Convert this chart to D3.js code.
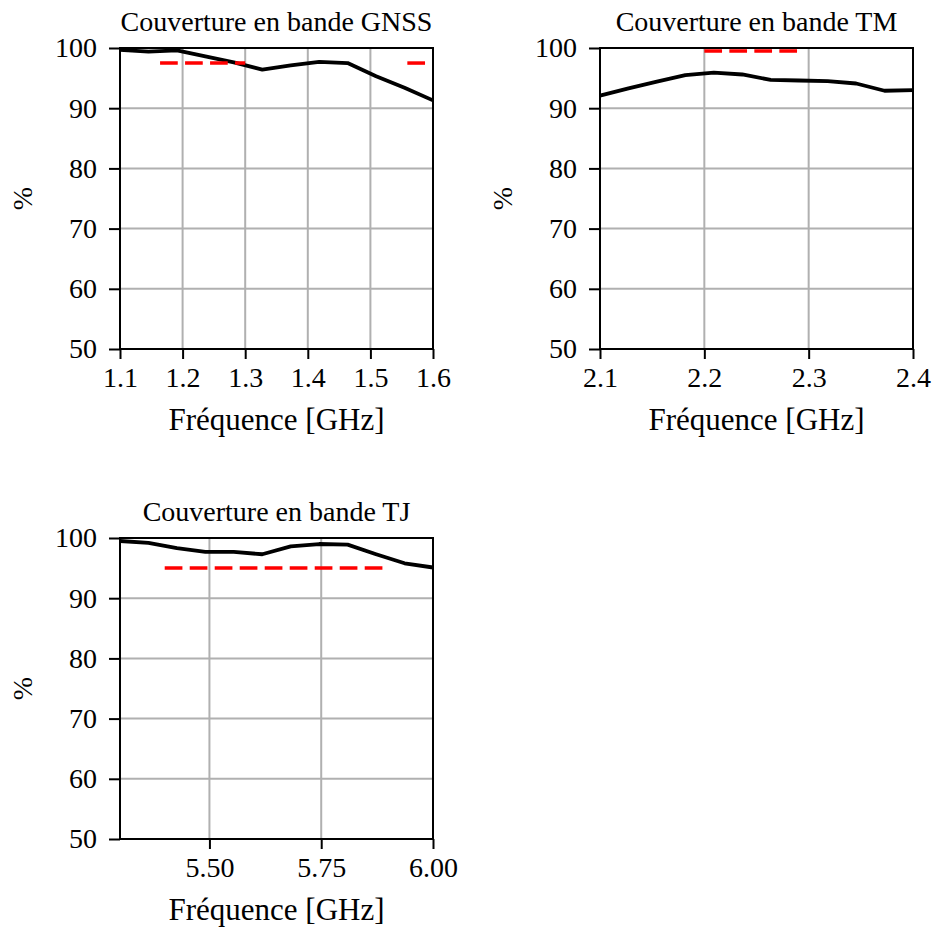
<!DOCTYPE html>
<html><head><meta charset="utf-8">
<script src="https://cdn.jsdelivr.net/npm/d3@7"></script>
<style>body{margin:0;background:#fff}svg{display:block}text{font-family:"Liberation Serif","Times New Roman",serif;fill:#000}</style>
</head><body>
<script>
// ---- data ----
const gnssFreq = [1.1, 1.1455, 1.1909, 1.2364, 1.2818, 1.3273, 1.3727, 1.4182, 1.4636, 1.5091, 1.5545, 1.6];
const gnssCov  = [99.7, 99.4, 99.6, 98.6, 97.6, 96.4, 97.1, 97.7, 97.5, 95.3, 93.4, 91.3];
const gnssReq  = [[1.164, 1.300, 97.5], [1.559, 1.591, 97.5]];
const tmFreq = [2.1, 2.1273, 2.1545, 2.1818, 2.2091, 2.2364, 2.2636, 2.2909, 2.3182, 2.3455, 2.3727, 2.4];
const tmCov  = [92.1, 93.3, 94.4, 95.5, 95.9, 95.6, 94.7, 94.6, 94.5, 94.1, 92.9, 93.0];
const tmReq  = [[2.2, 2.29, 99.5]];
const tjFreq = [5.3, 5.3636, 5.4273, 5.4909, 5.5545, 5.6182, 5.6818, 5.7455, 5.8091, 5.8727, 5.9364, 6.0];
const tjCov  = [99.5, 99.2, 98.3, 97.7, 97.7, 97.3, 98.6, 99.0, 98.9, 97.3, 95.8, 95.1];
const tjReq  = [[5.4, 5.9, 95.0]];
const yTicks = [50, 60, 70, 80, 90, 100];
const gnssTicks = [1.1, 1.2, 1.3, 1.4, 1.5, 1.6];
const tmTicks = [2.1, 2.2, 2.3, 2.4];
const tjTicks = [5.5, 5.75, 6.0];

const panels = [
  {title: "Couverture en bande GNSS", x: gnssFreq, y: gnssCov, req: gnssReq, dom: [1.1, 1.6], ticks: gnssTicks, fmt: d3.format(".1f"), left: 120, top: 48},
  {title: "Couverture en bande TM", x: tmFreq, y: tmCov, req: tmReq, dom: [2.1, 2.4], ticks: tmTicks, fmt: d3.format(".1f"), left: 600, top: 48},
  {title: "Couverture en bande TJ", x: tjFreq, y: tjCov, req: tjReq, dom: [5.3, 6.0], ticks: tjTicks, fmt: d3.format(".2f"), left: 120, top: 538}
];
const W = 313, H = 301;
const FONT = '"Liberation Serif", "Times New Roman", serif';

const svg = d3.select("body").append("svg").attr("width", 934).attr("height", 929);

panels.forEach(p => {
  const g = svg.append("g").attr("transform", `translate(${p.left},${p.top})`);
  const x = d3.scaleLinear().domain(p.dom).range([0, W]);
  const y = d3.scaleLinear().domain([50, 100]).range([H, 0]);

  // grid
  g.append("g").selectAll("line").data(p.ticks).join("line")
    .attr("x1", d => x(d)).attr("x2", d => x(d)).attr("y1", 0).attr("y2", H)
    .attr("stroke", "#b0b0b0").attr("stroke-width", 2);
  g.append("g").selectAll("line").data(yTicks).join("line")
    .attr("y1", d => y(d)).attr("y2", d => y(d)).attr("x1", 0).attr("x2", W)
    .attr("stroke", "#b0b0b0").attr("stroke-width", 2);

  // data line
  const line = d3.line().x(d => x(d[0])).y(d => y(d[1]));
  g.append("path").datum(p.x.map((v, i) => [v, p.y[i]]))
    .attr("d", line).attr("fill", "none").attr("stroke", "#000").attr("stroke-width", 3.8)
    .attr("stroke-linejoin", "round");

  // requirement
  p.req.forEach(r => {
    g.append("line").attr("x1", x(r[0])).attr("x2", x(r[1])).attr("y1", y(r[2])).attr("y2", y(r[2]))
      .attr("stroke", "#ff0000").attr("stroke-width", 3.5).attr("stroke-dasharray", "17.7,7.3");
  });

  // axes
  const xa = g.append("g").attr("transform", `translate(0,${H})`)
    .call(d3.axisBottom(x).tickValues(p.ticks).tickFormat(p.fmt).tickSize(10).tickPadding(8));
  const ya = g.append("g").call(d3.axisLeft(y).tickValues(yTicks).tickSize(11).tickPadding(12));
  [xa, ya].forEach(a => {
    a.attr("font-family", FONT).attr("font-size", 28);
    a.select(".domain").remove();
    a.selectAll("line").attr("stroke", "#000").attr("stroke-width", 2);
    a.selectAll("text").attr("font-family", FONT).attr("font-size", 28).attr("fill", "#000");
  });
  // frame
  g.append("rect").attr("width", W).attr("height", H).attr("fill", "none").attr("stroke", "#000").attr("stroke-width", 2);

  // labels
  g.append("text").attr("x", W / 2).attr("y", -17).attr("text-anchor", "middle").attr("font-family", FONT).attr("font-size", 28).text(p.title);
  g.append("text").attr("x", W / 2).attr("y", H + 81).attr("text-anchor", "middle").attr("font-family", FONT).attr("font-size", 31).text("Fréquence [GHz]");
  g.append("text").attr("transform", `translate(${-88},${H / 2}) rotate(-90)`).attr("text-anchor", "middle")
    .attr("font-family", FONT).attr("font-size", 28).text("%");
});
</script>
</body></html>
